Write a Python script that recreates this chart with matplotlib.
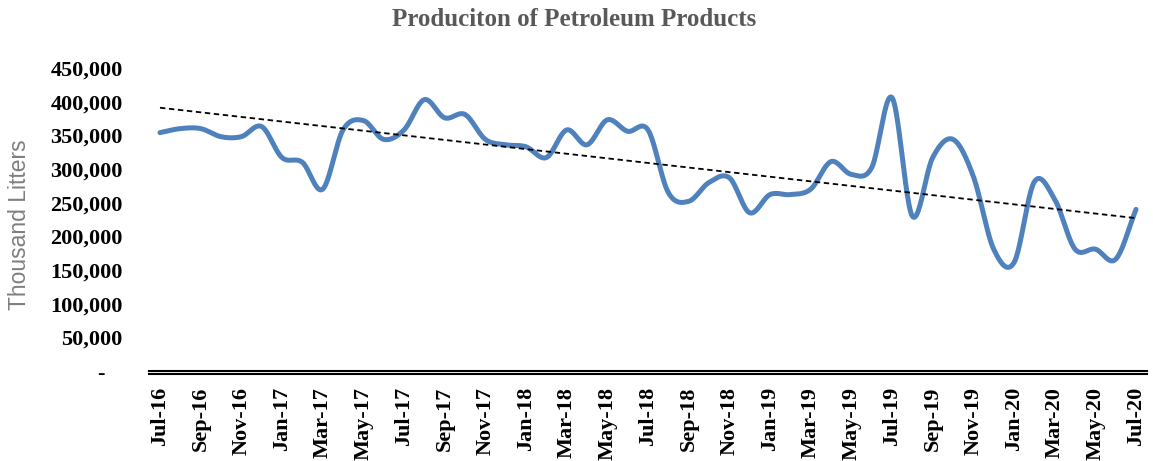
import numpy as np
import matplotlib
matplotlib.use('Agg')
import matplotlib.pyplot as plt

# monthly production, thousand litres, Jul-16 .. Jul-20
months = ['Jul-16', 'Aug-16', 'Sep-16', 'Oct-16', 'Nov-16', 'Dec-16',
          'Jan-17', 'Feb-17', 'Mar-17', 'Apr-17', 'May-17', 'Jun-17',
          'Jul-17', 'Aug-17', 'Sep-17', 'Oct-17', 'Nov-17', 'Dec-17',
          'Jan-18', 'Feb-18', 'Mar-18', 'Apr-18', 'May-18', 'Jun-18',
          'Jul-18', 'Aug-18', 'Sep-18', 'Oct-18', 'Nov-18', 'Dec-18',
          'Jan-19', 'Feb-19', 'Mar-19', 'Apr-19', 'May-19', 'Jun-19',
          'Jul-19', 'Aug-19', 'Sep-19', 'Oct-19', 'Nov-19', 'Dec-19',
          'Jan-20', 'Feb-20', 'Mar-20', 'Apr-20', 'May-20', 'Jun-20',
          'Jul-20']
production = [354000, 360000, 360000, 348000, 348000, 363000,
              317000, 310000, 270000, 358000, 372000, 344000,
              358000, 403000, 376000, 381000, 344000, 336000,
              333000, 317000, 358000, 336000, 373000, 356000,
              358000, 265000, 252000, 280000, 287000, 235000,
              262000, 262000, 270000, 311000, 292000, 302000,
              406000, 230000, 317000, 344000, 289000, 181000,
              161000, 281000, 255000, 181000, 181000, 166000,
              240000]
# linear trendline as drawn (first and last month)
trend_ends = [391000, 227000]


def smooth(x, y, n=24):
    # catmull-rom curve through the points, like excel's smoothed line
    x = np.asarray(x, float)
    y = np.asarray(y, float)
    px = np.concatenate([[2 * x[0] - x[1]], x, [2 * x[-1] - x[-2]]])
    py = np.concatenate([[2 * y[0] - y[1]], y, [2 * y[-1] - y[-2]]])
    xs, ys = [], []
    t = np.linspace(0, 1, n, endpoint=False)
    for i in range(1, len(px) - 2):
        for p, out in ((px, xs), (py, ys)):
            p0, p1, p2, p3 = p[i - 1], p[i], p[i + 1], p[i + 2]
            out.append(0.5 * ((2 * p1) + (-p0 + p2) * t +
                              (2 * p0 - 5 * p1 + 4 * p2 - p3) * t ** 2 +
                              (-p0 + 3 * p1 - 3 * p2 + p3) * t ** 3))
    xs.append([x[-1]])
    ys.append([y[-1]])
    return np.concatenate(xs), np.concatenate(ys)


idx = np.arange(len(months))
sx, sy = smooth(idx, production)

fig = plt.figure(figsize=(11.53, 4.61), dpi=100)
ax = fig.add_axes([149 / 1153, 1 - 371 / 461, 998 / 1153, 303 / 461])

ax.plot(sx, sy, color='#4F81BD', lw=3.6, solid_capstyle='round')
ax.plot([idx[0], idx[-1]], trend_ends, color='black', lw=1.3, ls=(0, (3, 2)))

ax.set_xlim(-0.54, 48.54)
ax.set_ylim(0, 450000)

for s in ['top', 'right', 'left']:
    ax.spines[s].set_visible(False)
ax.spines['bottom'].set_linewidth(1.5)
ax.spines['bottom'].set_position(('outward', 2.5))
ax.axhline(0, color='black', lw=1.5, clip_on=False)
ax.tick_params(length=0)
ax.tick_params(axis='y', pad=19)
ax.tick_params(axis='x', pad=9)

ax.set_xticks(idx[::2])
ax.set_xticklabels(months[::2], rotation=90, fontfamily='Liberation Serif',
                   fontweight='bold', fontsize=16)
yt = np.arange(0, 450001, 50000)
ax.set_yticks(yt)
ax.set_yticklabels(['-   ' if v == 0 else f'{int(v):,}' for v in yt],
                   fontfamily='Liberation Serif', fontweight='bold', fontsize=16)

fig.text(20 / 1153, 1 - 225 / 461, 'Thousand Litters', rotation=90,
         ha='center', va='center', fontfamily='Liberation Sans', fontsize=16.5,
         color='#7f7f7f')
fig.text(574 / 1153, 1 - 20 / 461, 'Produciton of Petroleum Products',
         ha='center', va='center', fontfamily='Liberation Serif',
         fontweight='bold', fontsize=18, color='#595959')

fig.savefig('out.png', dpi=100)
